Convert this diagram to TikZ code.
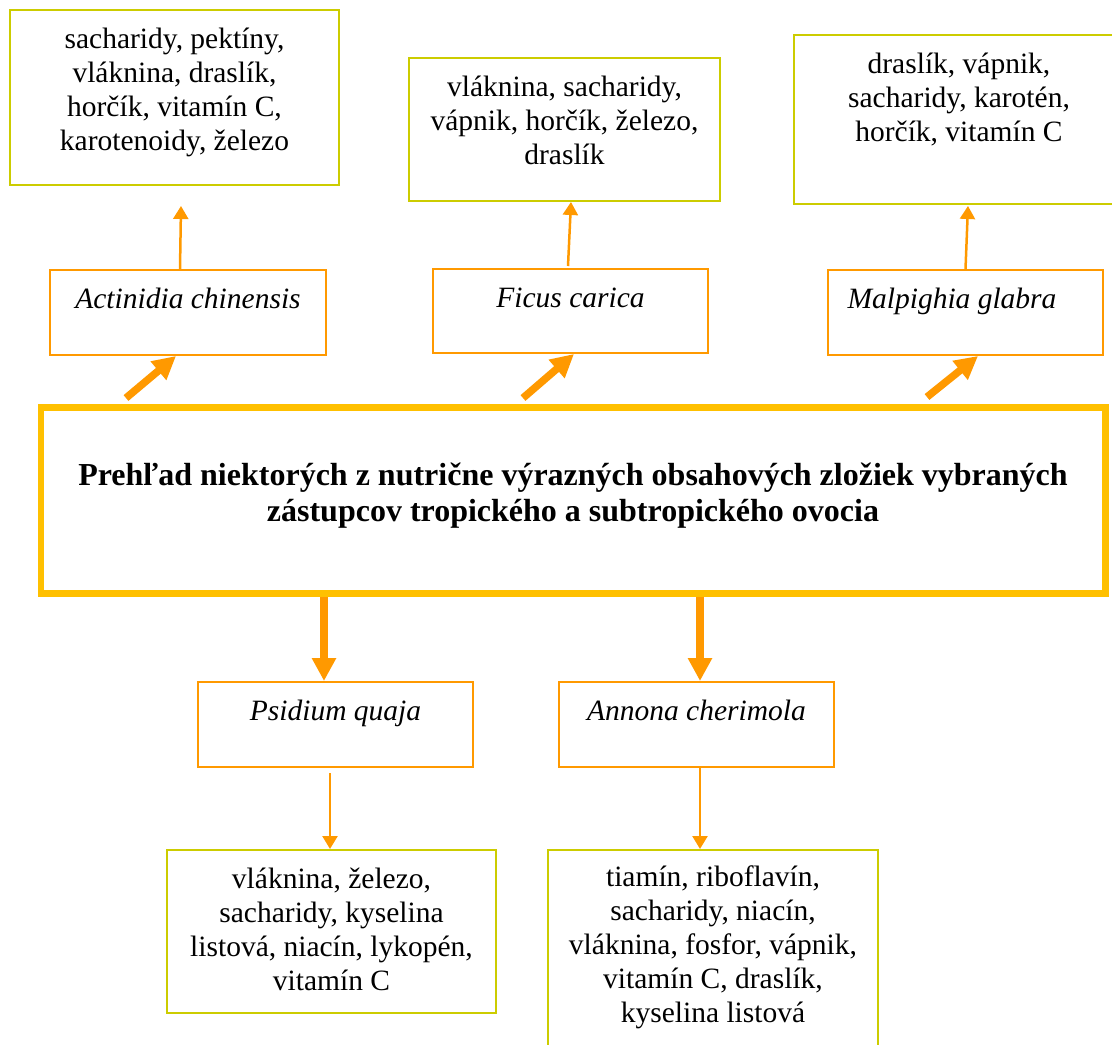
\documentclass[tikz,border=0pt]{standalone}
\usepackage{fontspec}
\setmainfont{Liberation Serif}
\usetikzlibrary{arrows.meta,calc}
\definecolor{boxgreen}{RGB}{204,204,0}
\definecolor{arrorange}{RGB}{255,153,0}
\definecolor{mainyellow}{RGB}{255,192,0}
\newcommand\boxcontent[4]{\parbox[c][#1][t]{#2}{\centering\rule{0pt}{#3}#4}}
\begin{document}
\begin{tikzpicture}[x=1pt,y=-1pt,
  greenbox/.style={draw=boxgreen, line width=2pt, inner sep=0pt, anchor=north west,
    font=\fontsize{29.5pt}{34pt}\selectfont},
  orangebox/.style={draw=arrorange, line width=2pt, inner sep=0pt, anchor=north west,
    font=\fontsize{29.5pt}{34pt}\selectfont\itshape},
  mainbox/.style={draw=mainyellow, line width=6.5pt, inner sep=0pt, anchor=north west,
    font=\fontsize{32pt}{36pt}\selectfont\bfseries},
  thinarrow/.style={draw=arrorange, line width=2.5pt, -{Triangle[length=13pt,width=15pt]}},
  thickarrow/.style={draw=arrorange, line width=7.5pt, -{Triangle[length=23pt,width=23pt]}}
]
\useasboundingbox (0,0) rectangle (1112,1045);
\clip (0,0) rectangle (1112,1045);

% main box
\node[mainbox] (m) at (37.5,404) {\boxcontent{186pt}{1064.5pt}{78pt}{Prehľad niektorých z nutrične výrazných obsahových zložiek vybraných\\ zástupcov tropického a subtropického ovocia}};

% species boxes
\node[orangebox] (o1) at (49,269) {\boxcontent{85pt}{276pt}{38pt}{Actinidia chinensis}};
\node[orangebox] (o2) at (432,268) {\boxcontent{84pt}{275pt}{38pt}{Ficus carica}};
\node[orangebox] (o3) at (827,269) {\boxcontent{85pt}{275pt}{38pt}{Malpighia glabra\rule{27pt}{0pt}}};
\node[orangebox] (o4) at (197,681) {\boxcontent{85pt}{275pt}{38pt}{Psidium quaja}};
\node[orangebox] (o5) at (558,681) {\boxcontent{85pt}{275pt}{38pt}{Annona cherimola}};

% nutrient boxes
\node[greenbox] (g1) at (9,9) {\boxcontent{175pt}{329pt}{38pt}{sacharidy, pektíny,\\ vláknina, draslík,\\ horčík, vitamín C,\\ karotenoidy, železo}};
\node[greenbox] (g2) at (408,57) {\boxcontent{143pt}{311pt}{38pt}{vláknina, sacharidy,\\ vápnik, horčík, železo,\\ draslík}};
\node[greenbox] (g3) at (793,34) {\boxcontent{169pt}{330pt}{38pt}{draslík, vápnik,\\ sacharidy, karotén,\\ horčík, vitamín C}};
\node[greenbox] (g4) at (166,849) {\boxcontent{163pt}{329pt}{38pt}{vláknina, železo,\\ sacharidy, kyselina\\ listová, niacín, lykopén,\\ vitamín C}};
\node[greenbox] (g5) at (547,849) {\boxcontent{220pt}{330pt}{36pt}{tiamín, riboflavín,\\ sacharidy, niacín,\\ vláknina, fosfor, vápnik,\\ vitamín C, draslík,\\ kyselina listová}};

% thick arrows from main box
\draw[thickarrow] ([xshift=88.5pt,yshift=6pt]m.north west) -- ([xshift=-12pt]o1.south);
\draw[thickarrow] ([xshift=485.5pt,yshift=6pt]m.north west) -- ([xshift=3.5pt]o2.south);
\draw[thickarrow] ([xshift=889.5pt,yshift=7pt]m.north west) -- ([xshift=12.5pt]o3.south);
\coordinate (p4) at ([xshift=-11.5pt]o4.north);
\coordinate (p5) at ([xshift=3.5pt]o5.north);
\draw[thickarrow] (p4 |- m.south) -- (p4);
\draw[thickarrow] (p5 |- m.south) -- (p5);

% thin arrows to nutrient boxes
\coordinate (g1tip) at ([xshift=6.5pt,yshift=-20pt]g1.south);
\draw[thinarrow] ([xshift=-8pt]o1.north) -- (g1tip);
\draw[thinarrow] ([xshift=-2.5pt,yshift=2pt]o2.north) -- ([xshift=6.5pt]g2.south);
\draw[thinarrow] (o3.north) -- ([xshift=9pt,yshift=-1pt]g3.south);
\draw[thinarrow] ([xshift=-5.5pt,yshift=-5pt]o4.south) -- ([xshift=-1.5pt]g4.north);
\draw[thinarrow] ([xshift=3.5pt]o5.south) -- ([xshift=-13pt]g5.north);
\end{tikzpicture}
\end{document}
